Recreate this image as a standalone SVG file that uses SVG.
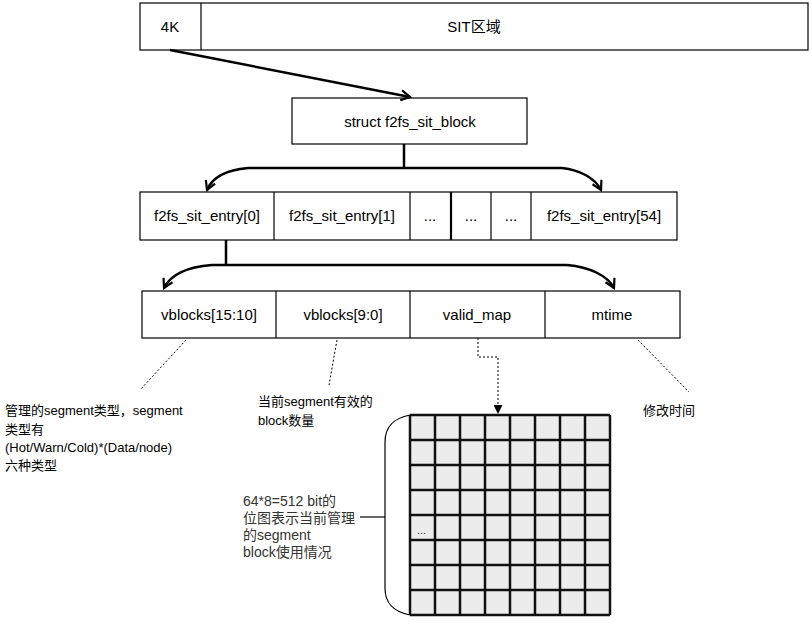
<svg xmlns="http://www.w3.org/2000/svg" width="812" height="626" viewBox="0 0 812 626">
<defs>
<style>
.box{fill:#fff;stroke:#000;stroke-width:1.2}
.t{font-family:"Liberation Sans","Noto Sans CJK SC",sans-serif;font-size:15px;fill:#000;text-anchor:middle}
.a{font-family:"Liberation Sans","Noto Sans CJK SC",sans-serif;font-size:13px;fill:#000}
.g{font-family:"Liberation Sans","Noto Sans CJK SC",sans-serif;font-size:14px;fill:#333}
.c{fill:none;stroke:#000;stroke-width:2.5}
.d{fill:none;stroke:#000;stroke-width:1;stroke-dasharray:2,2}
</style>
<marker id="chev" viewBox="0 0 12 12" refX="10" refY="6" markerWidth="12" markerHeight="12" markerUnits="userSpaceOnUse" orient="auto">
<path d="M1,1 L10,6 L1,11" fill="none" stroke="#000" stroke-width="2.2"/>
</marker>
<marker id="tri" viewBox="0 0 10 10" refX="10" refY="5" markerWidth="9" markerHeight="9" markerUnits="userSpaceOnUse" orient="auto">
<path d="M0,0 L10,5 L0,10 Z" fill="#000"/>
</marker>
</defs>

<g id="sit-area">
<rect class="box" x="140" y="3" width="668" height="47"/>
<line x1="201" y1="3" x2="201" y2="50" stroke="#000" stroke-width="1.2"/>
<text class="t" x="170" y="32">4K</text>
<text class="t" x="474" y="32">SIT区域</text>
</g>

<g id="sit-block">
<rect class="box" x="292" y="98" width="235" height="46"/>
<text class="t" x="410" y="127">struct f2fs_sit_block</text>
</g>

<g id="entries">
<rect class="box" x="140" y="192" width="537" height="48"/>
<line x1="274" y1="192" x2="274" y2="240" stroke="#000" stroke-width="1.2"/>
<line x1="410" y1="192" x2="410" y2="240" stroke="#000" stroke-width="1.2"/>
<line x1="451" y1="192" x2="451" y2="240" stroke="#000" stroke-width="2.2"/>
<line x1="491" y1="192" x2="491" y2="240" stroke="#000" stroke-width="1.2"/>
<line x1="531" y1="192" x2="531" y2="240" stroke="#000" stroke-width="1.2"/>
<text class="t" x="207" y="221">f2fs_sit_entry[0]</text>
<text class="t" x="342" y="221">f2fs_sit_entry[1]</text>
<text class="t" x="430" y="221">...</text>
<text class="t" x="471" y="221">...</text>
<text class="t" x="511" y="221">...</text>
<text class="t" x="604" y="221">f2fs_sit_entry[54]</text>
</g>

<g id="fields">
<rect class="box" x="142" y="291" width="538" height="47"/>
<line x1="276" y1="291" x2="276" y2="338" stroke="#000" stroke-width="1.2"/>
<line x1="410" y1="291" x2="410" y2="338" stroke="#000" stroke-width="1.2"/>
<line x1="545" y1="291" x2="545" y2="338" stroke="#000" stroke-width="1.2"/>
<text class="t" x="209" y="320">vblocks[15:10]</text>
<text class="t" x="343" y="320">vblocks[9:0]</text>
<text class="t" x="477" y="320">valid_map</text>
<text class="t" x="612" y="320">mtime</text>
</g>

<g id="bitmap">
<rect x="410" y="415" width="200" height="200" fill="#ececec"/>
<g stroke="#111" stroke-width="2.5">
<line x1="410" y1="415" x2="610" y2="415"/>
<line x1="410" y1="440" x2="610" y2="440"/>
<line x1="410" y1="465" x2="610" y2="465"/>
<line x1="410" y1="490" x2="610" y2="490"/>
<line x1="410" y1="515" x2="610" y2="515"/>
<line x1="410" y1="540" x2="610" y2="540"/>
<line x1="410" y1="565" x2="610" y2="565"/>
<line x1="410" y1="590" x2="610" y2="590"/>
<line x1="410" y1="615" x2="610" y2="615"/>
<line x1="410" y1="415" x2="410" y2="615"/>
<line x1="435" y1="415" x2="435" y2="615"/>
<line x1="460" y1="415" x2="460" y2="615"/>
<line x1="485" y1="415" x2="485" y2="615"/>
<line x1="510" y1="415" x2="510" y2="615"/>
<line x1="535" y1="415" x2="535" y2="615"/>
<line x1="560" y1="415" x2="560" y2="615"/>
<line x1="585" y1="415" x2="585" y2="615"/>
<line x1="610" y1="415" x2="610" y2="615"/>
</g>
<text x="417" y="534" font-family="Liberation Sans,sans-serif" font-size="11" fill="#333">...</text>
</g>

<g id="brace">
<path d="M410,415 C395,418 385,425 385,442 L385,588 C385,605 395,612 410,615" fill="none" stroke="#000" stroke-width="1.2"/>
<line x1="360" y1="517" x2="385" y2="517" stroke="#000" stroke-width="1.2"/>
</g>

<g id="notes">
<text class="a" x="5" y="415">管理的segment类型，segment</text>
<text class="a" x="5" y="434">类型有</text>
<text class="a" x="5" y="452">(Hot/Warn/Cold)*(Data/node)</text>
<text class="a" x="5" y="470">六种类型</text>
<text class="a" x="258" y="406">当前segment有效的</text>
<text class="a" x="258" y="425">block数量</text>
<text class="a" x="643" y="415">修改时间</text>
<text class="g" x="243" y="506">64*8=512 bit的</text>
<text class="g" x="243" y="523">位图表示当前管理</text>
<text class="g" x="243" y="540">的segment</text>
<text class="g" x="243" y="557">block使用情况</text>
</g>

<g id="connectors">
<line class="c" x1="170" y1="50" x2="410" y2="97" marker-end="url(#chev)"/>
<line class="c" x1="404" y1="144" x2="404" y2="168"/>
<path class="c" d="M562,168 L248,168 C225,170 212,178 207,190" marker-end="url(#chev)"/>
<path class="c" d="M562,168 C580,170 595,178 601,190" marker-end="url(#chev)"/>
<line class="c" x1="226" y1="240" x2="226" y2="265"/>
<path class="c" d="M567,265 L212,265 C185,267 170,276 164,288" marker-end="url(#chev)"/>
<path class="c" d="M567,265 C590,267 608,276 614,288" marker-end="url(#chev)"/>
<line class="d" x1="186" y1="340" x2="140" y2="390"/>
<line class="d" x1="337" y1="340" x2="329" y2="385"/>
<polyline class="d" points="478,338 478,357 498,357 498,414" marker-end="url(#tri)"/>
<line class="d" x1="638" y1="340" x2="689" y2="392"/>
</g>
</svg>
